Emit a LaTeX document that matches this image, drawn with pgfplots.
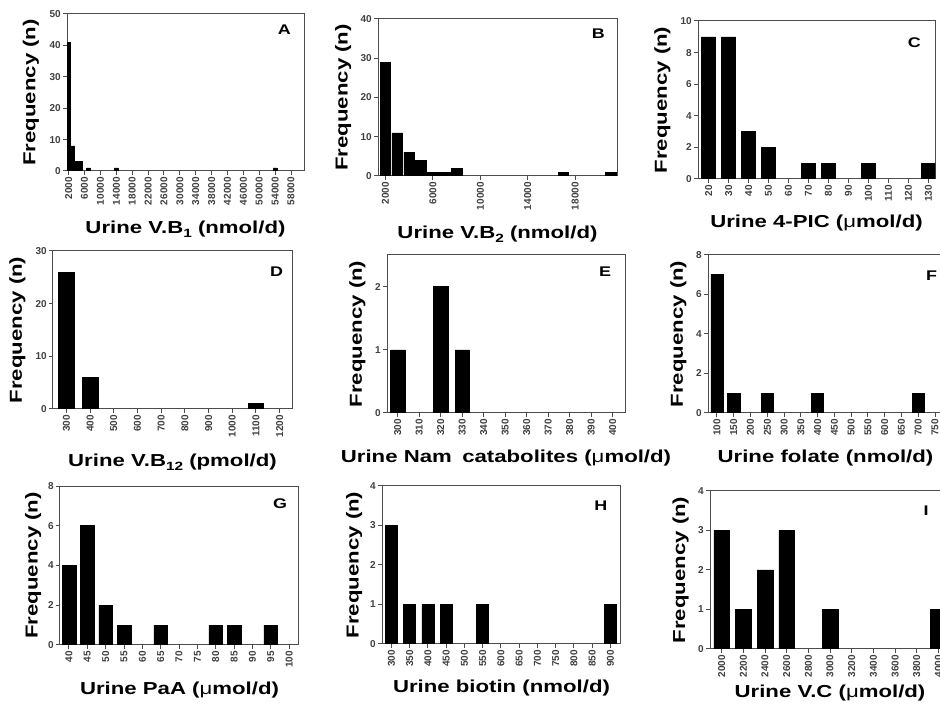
\documentclass[border=0pt]{standalone}
\usepackage{fontspec}
\usepackage{pgfplots}
\pgfplotsset{compat=1.18}
\setmainfont{Liberation Sans}
\newfontfamily\labfont{Liberation Sans}[FakeStretch=1.28]
\newcommand\lab{\labfont\bfseries\fontsize{13}{15}\selectfont}
\newcommand\letf{\labfont\bfseries\fontsize{10.5}{12}\selectfont}
\newcommand\tickf{\bfseries\fontsize{7.5}{9}\selectfont}
\newcommand\sub[1]{\raisebox{-0.45ex}{\fontsize{9}{9}\selectfont #1}}
\newcommand\um{{\mdseries μ}}
\pgfplotsset{
  hbar/.style={draw=black, fill=black, line width=0.4pt},
  hist/.style={
    scale only axis, anchor=south west, ybar, ymin=0,
    enlargelimits=false,
    axis line style={draw=black!70, line width=0.75pt},
    every tick/.style={draw=black!70, line width=0.75pt},
    tick align=outside, major tick length=3pt,
    xtick pos=lower, ytick pos=left,
    xticklabel style={rotate=90, anchor=east, font=\tickf, text=black!75, inner sep=1.5pt},
    yticklabel style={font=\tickf, text=black!75, inner sep=1.5pt},
    scaled ticks=false,
    every axis y label/.style={rotate=90, anchor=center, font=\lab},
    every axis x label/.style={anchor=base, font=\lab},
    ylabel={Frequency (n)},
  }
}
\begin{document}
\begin{tikzpicture}
\path[use as bounding box] (0,0) rectangle (705pt,531.75pt);
\clip (0,0) rectangle (705pt,531.75pt);

% A
\begin{axis}[hist, at={(50.25pt,403.5pt)}, width=177.75pt, height=117.75pt,
  xmin=1580, xmax=61270, ymax=50, bar width=1000,
  xtick={2000,6000,10000,14000,18000,22000,26000,30000,34000,38000,42000,46000,50000,54000,58000},
  xticklabels={2000,6000,10000,14000,18000,22000,26000,30000,34000,38000,42000,46000,50000,54000,58000},
  ytick={0,10,20,30,40,50}, yticklabels={0,10,20,30,40,50},
  ylabel style={at={(axis description cs:-0.152,0.5)}},
  xlabel style={at={(axis description cs:0.5,-0.395)}},
  xlabel={Urine V.B\sub{1} (nmol/d)}]
\addplot[hbar] coordinates {(2000,41) (3000,8) (4000,3) (5000,3) (7000,1) (14000,1) (54000,1)};
\node[font=\letf] at (rel axis cs:0.917,0.898) {A};
\end{axis}

% B
\begin{axis}[hist, at={(283.5pt,399.75pt)}, width=179.25pt, height=117.75pt,
  xmin=1375, xmax=21520, ymax=40, bar width=900,
  xtick={2000,6000,10000,14000,18000},
  xticklabels={2000,6000,10000,14000,18000},
  ytick={0,10,20,30,40}, yticklabels={0,10,20,30,40},
  ylabel style={at={(axis description cs:-0.146,0.5)}},
  xlabel style={at={(axis description cs:0.5,-0.395)}},
  xlabel={Urine V.B\sub{2} (nmol/d)}]
\addplot[hbar] coordinates {(2000,29) (3000,11) (4000,6) (5000,4) (6000,1) (7000,1) (8000,2) (17000,1) (21000,1)};
\node[font=\letf] at (rel axis cs:0.922,0.904) {B};
\end{axis}

% C
\begin{axis}[hist, at={(523.5pt,397.5pt)}, width=177.75pt, height=118.5pt,
  xmin=14.7, xmax=133.3, ymax=10, bar width=7,
  xtick={20,30,40,50,60,70,80,90,100,110,120,130},
  xticklabels={20,30,40,50,60,70,80,90,100,110,120,130},
  ytick={0,2,4,6,8,10}, yticklabels={0,2,4,6,8,10},
  ylabel style={at={(axis description cs:-0.150,0.5)}},
  xlabel style={at={(axis description cs:0.5,-0.308)}},
  xlabel={Urine 4-PIC (\um mol/d)}]
\addplot[hbar] coordinates {(20,9) (30,9) (40,3) (50,2) (70,1) (80,1) (100,1) (130,1)};
\node[font=\letf] at (rel axis cs:0.913,0.864) {C};
\end{axis}

% D
\begin{axis}[hist, at={(39.75pt,225pt)}, width=179.25pt, height=118.5pt,
  xmin=243.5, xmax=1252, ymax=30, bar width=65,
  xtick={300,400,500,600,700,800,900,1000,1100,1200},
  xticklabels={300,400,500,600,700,800,900,1000,1100,1200},
  ytick={0,10,20,30}, yticklabels={0,10,20,30},
  ylabel style={at={(axis description cs:-0.149,0.5)}},
  xlabel style={at={(axis description cs:0.5,-0.365)}},
  xlabel={Urine V.B\sub{12} (pmol/d)}]
\addplot[hbar] coordinates {(300,26) (400,6) (1100,1)};
\node[font=\letf] at (rel axis cs:0.936,0.869) {D};
\end{axis}

% E
\begin{axis}[hist, at={(290.25pt,222pt)}, width=178.5pt, height=118.5pt,
  xmin=295, xmax=405.7, ymax=2.5, bar width=6.7,
  xtick={300,310,320,330,340,350,360,370,380,390,400},
  xticklabels={300,310,320,330,340,350,360,370,380,390,400},
  ytick={0,1,2}, yticklabels={0,1,2},
  ylabel style={at={(axis description cs:-0.124,0.5)}},
  xlabel style={at={(axis description cs:0.5,-0.316)}},
  xlabel={Urine Nam\hspace{0.6em}catabolites (\um mol/d)}]
\addplot[hbar] coordinates {(300,1) (320,2) (330,1)};
\node[font=\letf] at (rel axis cs:0.916,0.892) {E};
\end{axis}

% F
\begin{axis}[hist, at={(531pt,222pt)}, width=176.25pt, height=118.5pt,
  xmin=73.2, xmax=773.8, ymax=8, bar width=36,
  xtick={100,150,200,250,300,350,400,450,500,550,600,650,700,750},
  xticklabels={100,150,200,250,300,350,400,450,500,550,600,650,700,750},
  ytick={0,2,4,6,8}, yticklabels={0,2,4,6,8},
  ylabel style={at={(axis description cs:-0.126,0.5)}},
  xlabel style={at={(axis description cs:0.5,-0.316)}},
  xlabel={Urine folate (nmol/d)}]
\addplot[hbar] coordinates {(100,7) (150,1) (250,1) (400,1) (700,1)};
\node[font=\letf] at (rel axis cs:0.951,0.867) {F};
\end{axis}

% G
\begin{axis}[hist, at={(45pt,48pt)}, width=179.25pt, height=119.25pt,
  xmin=37.55, xmax=102.7, ymax=8, bar width=3.7,
  xtick={40,45,50,55,60,65,70,75,80,85,90,95,100},
  xticklabels={40,45,50,55,60,65,70,75,80,85,90,95,100},
  ytick={0,2,4,6,8}, yticklabels={0,2,4,6,8},
  ylabel style={at={(axis description cs:-0.112,0.5)}},
  xlabel style={at={(axis description cs:0.5,-0.314)}},
  xlabel={Urine PaA (\um mol/d)}]
\addplot[hbar] coordinates {(40,4) (45,6) (50,2) (55,1) (65,1) (80,1) (85,1) (95,1)};
\node[font=\letf] at (rel axis cs:0.921,0.887) {G};
\end{axis}

% H
\begin{axis}[hist, at={(286.5pt,48.75pt)}, width=179.25pt, height=118.5pt,
  xmin=274.4, xmax=929.2, ymax=4, bar width=33,
  xtick={300,350,400,450,500,550,600,650,700,750,800,850,900},
  xticklabels={300,350,400,450,500,550,600,650,700,750,800,850,900},
  ytick={0,1,2,3,4}, yticklabels={0,1,2,3,4},
  ylabel style={at={(axis description cs:-0.117,0.5)}},
  xlabel style={at={(axis description cs:0.5,-0.310)}},
  xlabel={Urine biotin (nmol/d)}]
\addplot[hbar] coordinates {(300,3) (350,1) (400,1) (450,1) (550,1) (900,1)};
\node[font=\letf] at (rel axis cs:0.916,0.877) {H};
\end{axis}

% I
\begin{axis}[hist, at={(532.5pt,45pt)}, width=180pt, height=118.5pt,
  xmin=1892, xmax=4107, ymax=4, bar width=145,
  xtick={2000,2200,2400,2600,2800,3000,3200,3400,3600,3800,4000},
  xticklabels={2000,2200,2400,2600,2800,3000,3200,3400,3600,3800,4000},
  ytick={0,1,2,3,4}, yticklabels={0,1,2,3,4},
  ylabel style={at={(axis description cs:-0.122,0.5)}},
  xlabel style={at={(axis description cs:0.5,-0.310)}},
  xlabel={Urine V.C (\um mol/d)}]
\addplot[hbar] coordinates {(2000,3) (2200,1) (2400,2) (2600,3) (3000,1) (4000,1)};
\node[font=\letf] at (rel axis cs:0.9,0.873) {I};
\end{axis}
\end{tikzpicture}
\end{document}
